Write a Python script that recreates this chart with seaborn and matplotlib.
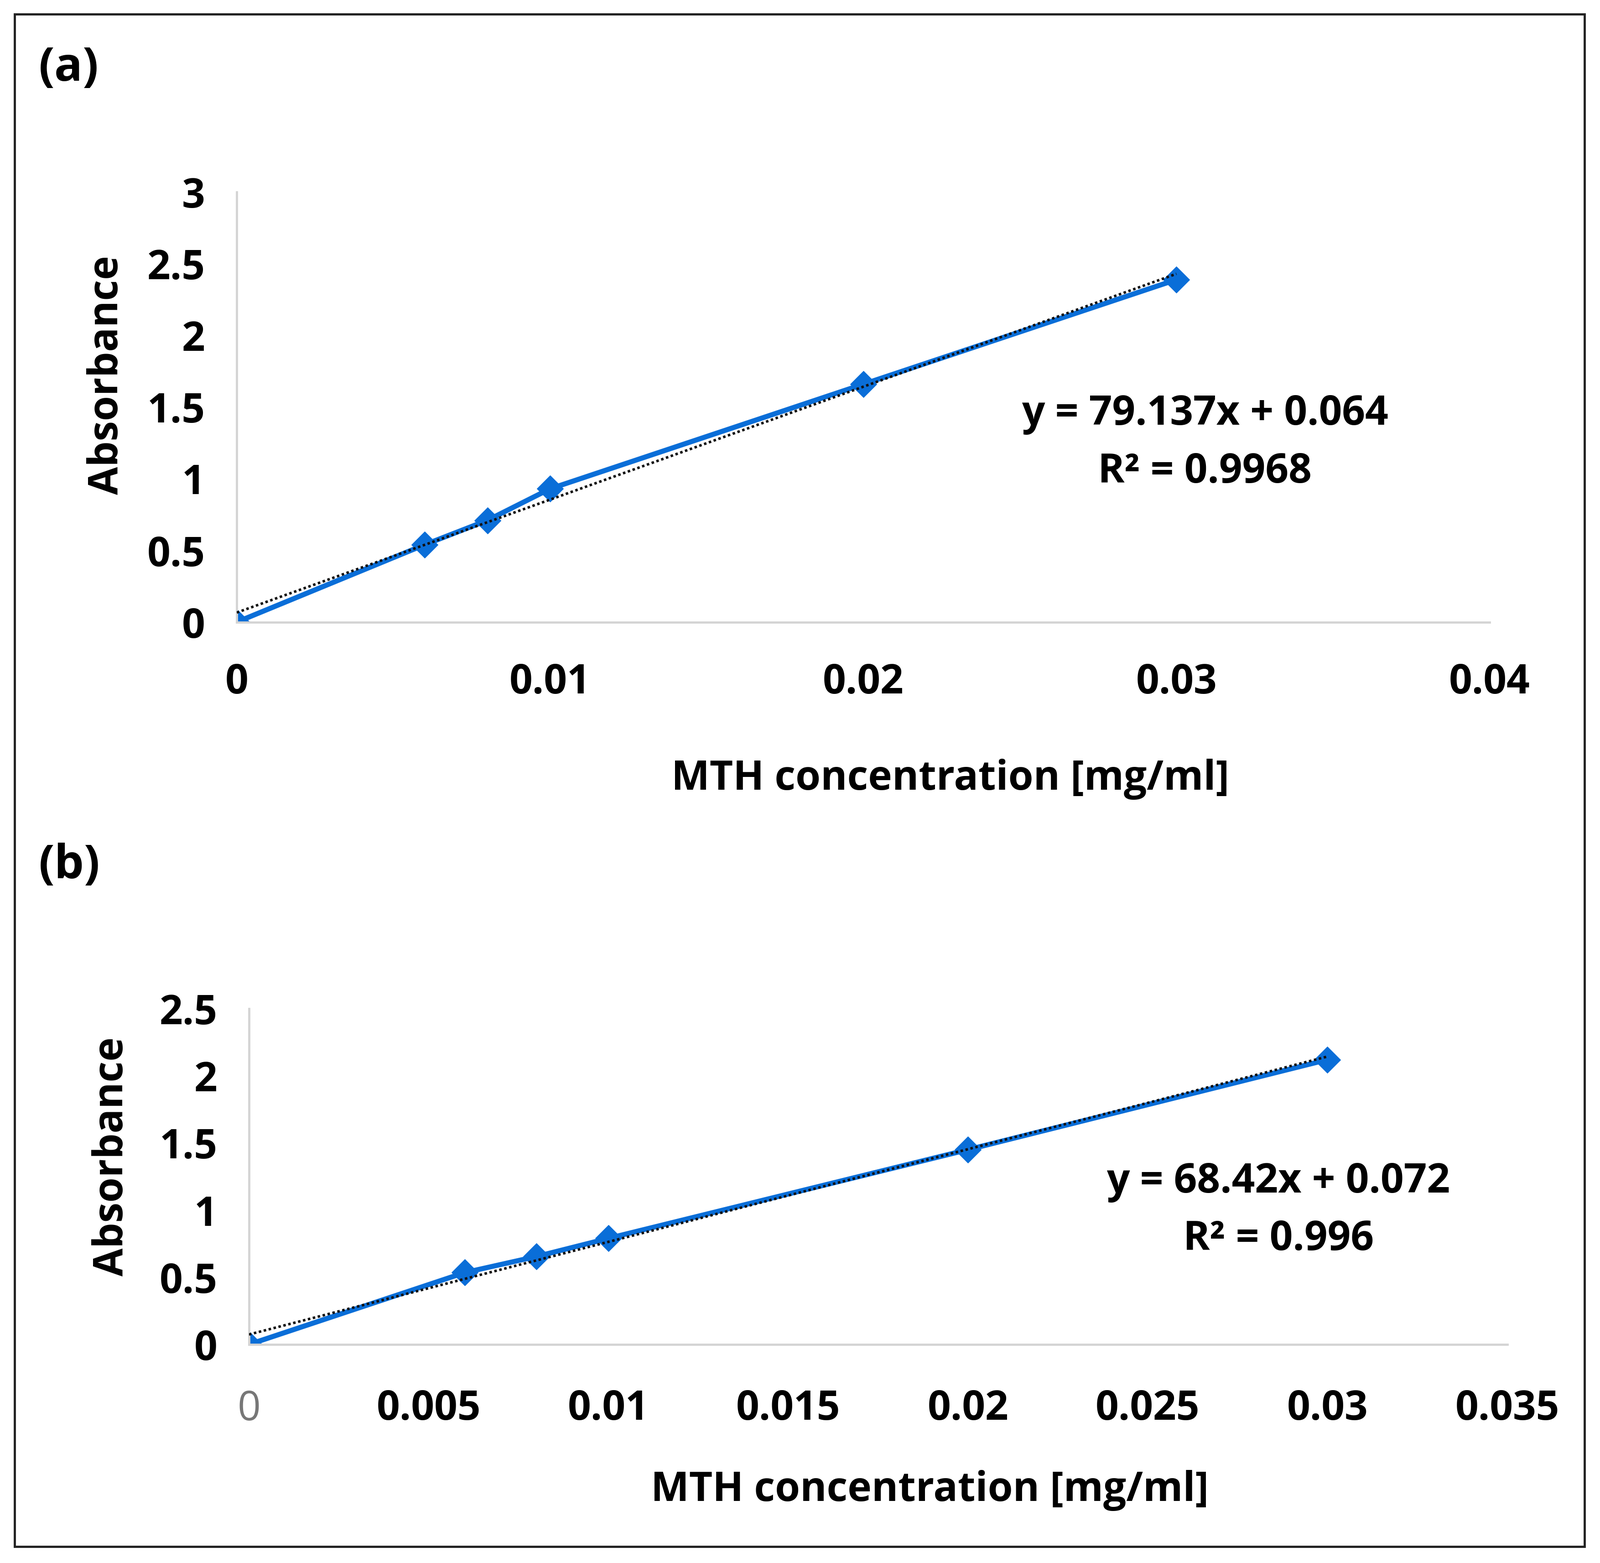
import numpy as np
import pandas as pd
import matplotlib.pyplot as plt
import seaborn as sns
from matplotlib.patches import Rectangle

# dữ liệu
conc_a = [0.0, 0.006, 0.008, 0.010, 0.020, 0.030]
abs_a = [0.0, 0.54, 0.71, 0.93, 1.66, 2.39]
conc_b = [0.0, 0.006, 0.008, 0.010, 0.020, 0.030]
abs_b = [0.0, 0.535, 0.655, 0.79, 1.45, 2.12]

eq_a = ["y = 79.137x + 0.064", "R\u00b2 = 0.9968"]
eq_b = ["y = 68.42x + 0.072", "R\u00b2 = 0.996"]

xticks_a = [0, 0.01, 0.02, 0.03, 0.04]
xlabels_a = ["0", "0.01", "0.02", "0.03", "0.04"]
xticks_b = [0, 0.005, 0.01, 0.015, 0.02, 0.025, 0.03, 0.035]
xlabels_b = ["0", "0.005", "0.01", "0.015", "0.02", "0.025", "0.03", "0.035"]
yticks_a = [0, 0.5, 1, 1.5, 2, 2.5, 3]
ylabels_a = ["0", "0.5", "1", "1.5", "2", "2.5", "3"]
yticks_b = [0, 0.5, 1, 1.5, 2, 2.5]
ylabels_b = ["0", "0.5", "1", "1.5", "2", "2.5"]

BLUE = "#0a6ed8"
FS = 64

sns.set_theme(style="white")
plt.rcParams['font.family'] = ['Open Sans', 'DejaVu Sans']
plt.rcParams['text.color'] = 'black'
plt.rcParams['xtick.color'] = 'black'
plt.rcParams['ytick.color'] = 'black'

fig = plt.figure(figsize=(35.08, 34.26), dpi=100)
fig.patches.append(Rectangle((0.009, 0.0105), 0.9814, 0.9804, transform=fig.transFigure,
                             fill=False, edgecolor="#222222", linewidth=3.5))


def draw_panel(rect, x, y, xt, xl, yt, yl, xlim, ylim, xpad):
    ax = fig.add_axes(rect)
    df = pd.DataFrame({"conc": x, "abs": y})
    sns.lineplot(data=df, x="conc", y="abs", ax=ax, color=BLUE, linewidth=8,
                 marker="D", markersize=30, markeredgecolor=BLUE, zorder=2)
    sns.regplot(data=df, x="conc", y="abs", ax=ax, scatter=False, ci=None,
                line_kws=dict(color="#111111", linewidth=4, linestyle=(0, (1.0, 1.0)), zorder=3))
    ax.set_xlim(*xlim)
    ax.set_ylim(*ylim)
    ax.set_xticks(xt)
    ax.set_xticklabels(xl, fontsize=FS, fontweight="bold")
    ax.set_yticks(yt)
    ax.set_yticklabels(yl, fontsize=FS, fontweight="bold")
    ax.tick_params(axis="x", length=0, pad=xpad)
    ax.tick_params(axis="y", length=0, pad=50)
    ax.set_xlabel("")
    ax.set_ylabel("")
    for s in ["top", "right"]:
        ax.spines[s].set_visible(False)
    for s in ["left", "bottom"]:
        ax.spines[s].set_color("#d4d4d4")
        ax.spines[s].set_linewidth(3.5)
    return ax


ax_a = draw_panel([0.148, 0.602, 0.783, 0.275], conc_a, abs_a, xticks_a, xlabels_a,
                  yticks_a, ylabels_a, (0, 0.04), (0, 3), 64)
ax_b = draw_panel([0.1556, 0.1398, 0.7864, 0.2149], conc_b, abs_b, xticks_b, xlabels_b,
                  yticks_b, ylabels_b, (0, 0.035), (0, 2.5), 70)
ax_b.get_xticklabels()[0].set_color("#777777")
ax_b.get_xticklabels()[0].set_fontweight("normal")

# chữ trên hình
fig.text(0.0242, 0.956, "(a)", fontsize=74, fontweight="bold", ha="left", va="center")
fig.text(0.0242, 0.446, "(b)", fontsize=74, fontweight="bold", ha="left", va="center")

fig.text(0.067, 0.760, "Absorbance", fontsize=FS, fontweight="bold", rotation=90,
         ha="center", va="center")
fig.text(0.070, 0.260, "Absorbance", fontsize=FS, fontweight="bold", rotation=90,
         ha="center", va="center")
fig.text(0.594, 0.5016, "MTH concentration [mg/ml]", fontsize=FS, fontweight="bold",
         ha="center", va="center")
fig.text(0.581, 0.0464, "MTH concentration [mg/ml]", fontsize=FS, fontweight="bold",
         ha="center", va="center")

fig.text(0.753, 0.735, eq_a[0], fontsize=FS, fontweight="bold", ha="center", va="center")
fig.text(0.753, 0.698, eq_a[1], fontsize=FS, fontweight="bold", ha="center", va="center")
fig.text(0.799, 0.2436, eq_b[0], fontsize=FS, fontweight="bold", ha="center", va="center")
fig.text(0.799, 0.207, eq_b[1], fontsize=FS, fontweight="bold", ha="center", va="center")

fig.savefig("out.png", dpi=100, facecolor="white")
